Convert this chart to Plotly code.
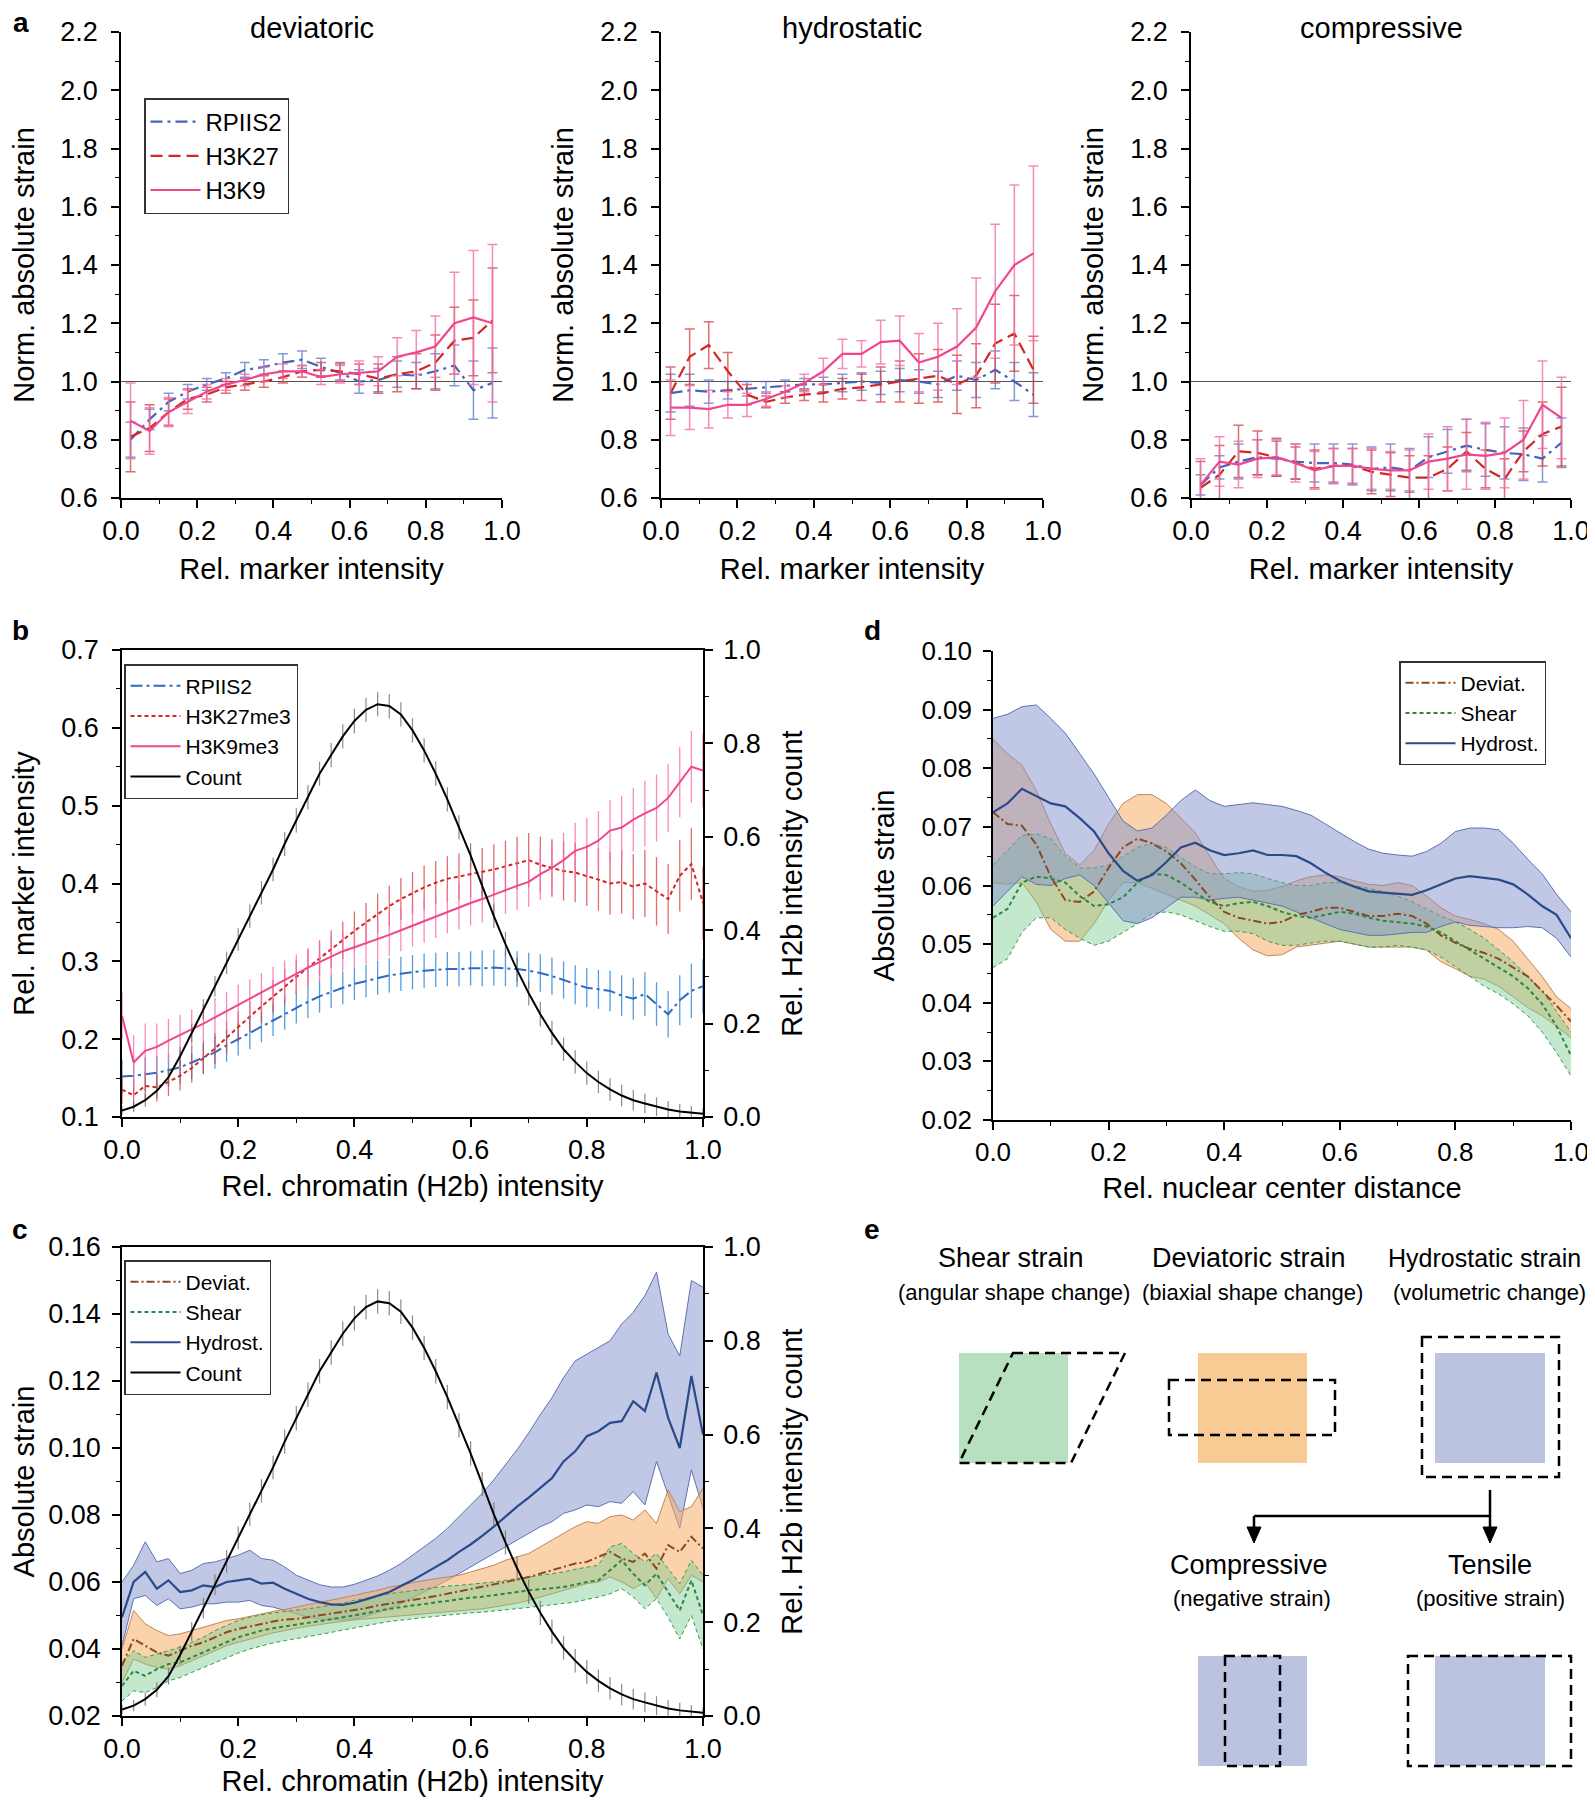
import plotly.graph_objects as go

# page is rendered with an 8px body margin; figure sized so it ends at the window edge
OFF = 8
W, H = 1595 - OFF, 1800 - OFF
FONT = "Liberation Sans, Arial, sans-serif"
NARROW = "Liberation Sans Narrow, Arial Narrow, Liberation Sans, sans-serif"

# ---------------- panel a data ----------------
a_x = [0.025, 0.075, 0.125, 0.175, 0.225, 0.275, 0.325, 0.375, 0.425, 0.475,
       0.525, 0.575, 0.625, 0.675, 0.725, 0.775, 0.825, 0.875, 0.925, 0.975]
a_series = ["RPIIS2", "H3K27", "H3K9"]
a_titles = ["deviatoric", "hydrostatic", "compressive"]

dev_rpiis2 = [0.80, 0.87, 0.93, 0.965, 0.99, 1.01, 1.04, 1.05, 1.065, 1.075, 1.05, 1.03, 1.0, 1.005, 1.025, 1.02, 1.035, 1.055, 0.97, 0.995]
dev_h3k27 = [0.81, 0.84, 0.895, 0.94, 0.955, 0.98, 0.99, 1.0, 1.015, 1.035, 1.04, 1.035, 1.025, 1.01, 1.025, 1.035, 1.065, 1.14, 1.15, 1.21]
dev_h3k9 = [0.865, 0.83, 0.895, 0.93, 0.965, 0.99, 1.005, 1.025, 1.035, 1.035, 1.015, 1.025, 1.03, 1.035, 1.085, 1.10, 1.12, 1.20, 1.22, 1.20]
dev_rpiis2_err = [0.06, 0.035, 0.03, 0.025, 0.02, 0.02, 0.025, 0.025, 0.03, 0.03, 0.03, 0.03, 0.04, 0.04, 0.045, 0.045, 0.06, 0.07, 0.1, 0.12]
dev_h3k27_err = [0.12, 0.08, 0.045, 0.035, 0.025, 0.02, 0.02, 0.02, 0.02, 0.02, 0.025, 0.03, 0.035, 0.05, 0.06, 0.06, 0.095, 0.115, 0.13, 0.18]
dev_h3k9_err = [0.13, 0.08, 0.05, 0.04, 0.025, 0.02, 0.02, 0.025, 0.025, 0.02, 0.025, 0.03, 0.04, 0.05, 0.065, 0.075, 0.105, 0.175, 0.23, 0.27]

hyd_rpiis2 = [0.96, 0.97, 0.965, 0.97, 0.975, 0.98, 0.985, 0.99, 0.99, 0.995, 1.0, 0.995, 1.005, 1.0, 0.99, 1.02, 1.005, 1.04, 1.0, 0.955]
hyd_h3k27 = [0.96, 1.085, 1.125, 1.035, 0.955, 0.93, 0.945, 0.955, 0.96, 0.975, 0.98, 0.99, 1.0, 1.01, 1.02, 0.99, 1.02, 1.13, 1.165, 1.04]
hyd_h3k9 = [0.91, 0.91, 0.905, 0.92, 0.92, 0.94, 0.965, 0.995, 1.035, 1.095, 1.095, 1.135, 1.14, 1.065, 1.085, 1.12, 1.185, 1.31, 1.40, 1.44]
hyd_rpiis2_err = [0.065, 0.055, 0.04, 0.03, 0.025, 0.02, 0.02, 0.02, 0.025, 0.03, 0.03, 0.04, 0.04, 0.04, 0.045, 0.05, 0.06, 0.065, 0.065, 0.075]
hyd_h3k27_err = [0.09, 0.095, 0.08, 0.065, 0.035, 0.02, 0.02, 0.02, 0.03, 0.035, 0.045, 0.06, 0.07, 0.085, 0.09, 0.1, 0.11, 0.135, 0.13, 0.115]
hyd_h3k9_err = [0.095, 0.075, 0.065, 0.045, 0.04, 0.025, 0.02, 0.03, 0.045, 0.05, 0.045, 0.075, 0.085, 0.1, 0.115, 0.13, 0.17, 0.23, 0.275, 0.30]

com_rpiis2 = [0.645, 0.705, 0.725, 0.74, 0.735, 0.725, 0.72, 0.72, 0.715, 0.70, 0.705, 0.695, 0.74, 0.76, 0.78, 0.765, 0.755, 0.75, 0.735, 0.79]
com_h3k27 = [0.635, 0.68, 0.76, 0.755, 0.74, 0.72, 0.70, 0.71, 0.71, 0.69, 0.68, 0.67, 0.67, 0.70, 0.76, 0.70, 0.665, 0.76, 0.82, 0.845]
com_h3k9 = [0.645, 0.725, 0.715, 0.735, 0.74, 0.72, 0.695, 0.71, 0.71, 0.70, 0.695, 0.695, 0.725, 0.735, 0.75, 0.745, 0.755, 0.80, 0.92, 0.875]
com_rpiis2_err = [0.035, 0.04, 0.06, 0.06, 0.06, 0.06, 0.065, 0.065, 0.07, 0.075, 0.08, 0.075, 0.07, 0.075, 0.09, 0.09, 0.09, 0.09, 0.08, 0.085]
com_h3k27_err = [0.09, 0.1, 0.09, 0.075, 0.065, 0.055, 0.065, 0.06, 0.06, 0.075, 0.075, 0.075, 0.075, 0.075, 0.065, 0.065, 0.07, 0.07, 0.11, 0.135]
com_h3k9_err = [0.09, 0.085, 0.08, 0.065, 0.06, 0.065, 0.065, 0.06, 0.06, 0.07, 0.065, 0.07, 0.095, 0.11, 0.12, 0.115, 0.12, 0.135, 0.15, 0.14]

# ---------------- panels b / c data ----------------
bx = [0.00, 0.02, 0.04, 0.06, 0.08, 0.10, 0.12, 0.14, 0.16, 0.18,
      0.20, 0.22, 0.24, 0.26, 0.28, 0.30, 0.32, 0.34, 0.36, 0.38,
      0.40, 0.42, 0.44, 0.46, 0.48, 0.50, 0.52, 0.54, 0.56, 0.58,
      0.60, 0.62, 0.64, 0.66, 0.68, 0.70, 0.72, 0.74, 0.76, 0.78,
      0.80, 0.82, 0.84, 0.86, 0.88, 0.90, 0.92, 0.94, 0.96, 0.98,
      1.00]
count = [0.014, 0.022, 0.036, 0.056, 0.085, 0.13, 0.18, 0.23, 0.28, 0.33,
         0.38, 0.43, 0.48, 0.53, 0.585, 0.635, 0.685, 0.735, 0.775, 0.815,
         0.848, 0.872, 0.884, 0.88, 0.862, 0.828, 0.785, 0.735, 0.68, 0.62,
         0.56, 0.495, 0.43, 0.37, 0.315, 0.265, 0.22, 0.18, 0.145, 0.118,
         0.094, 0.075, 0.059, 0.046, 0.036, 0.029, 0.022, 0.016, 0.012, 0.009,
         0.007]
count_err = [0.01, 0.012, 0.014, 0.016, 0.018, 0.02, 0.02, 0.022, 0.022, 0.024,
             0.024, 0.025, 0.025, 0.025, 0.026, 0.026, 0.026, 0.026, 0.026, 0.026,
             0.026, 0.026, 0.026, 0.026, 0.026, 0.026, 0.026, 0.026, 0.026, 0.026,
             0.026, 0.026, 0.026, 0.026, 0.026, 0.026, 0.026, 0.026, 0.025, 0.025,
             0.025, 0.024, 0.024, 0.023, 0.022, 0.021, 0.02, 0.018, 0.016, 0.014,
             0.012]
b_rpiis2 = [0.152, 0.153, 0.155, 0.157, 0.16, 0.164, 0.17, 0.176, 0.183, 0.192,
            0.20, 0.208, 0.217, 0.225, 0.233, 0.241, 0.248, 0.255, 0.261, 0.266,
            0.271, 0.275, 0.279, 0.282, 0.284, 0.286, 0.288, 0.289, 0.29, 0.29,
            0.291, 0.291, 0.292, 0.291, 0.29, 0.288, 0.285, 0.281, 0.276, 0.27,
            0.266, 0.264, 0.262, 0.256, 0.252, 0.258, 0.245, 0.232, 0.25, 0.262,
            0.268]
b_rpiis2_err = [0.022, 0.022, 0.022, 0.021, 0.021, 0.021, 0.021, 0.021, 0.021, 0.021,
                0.021, 0.021, 0.021, 0.021, 0.021, 0.021, 0.021, 0.021, 0.021, 0.021,
                0.021, 0.021, 0.022, 0.022, 0.022, 0.022, 0.022, 0.022, 0.022, 0.022,
                0.022, 0.023, 0.023, 0.023, 0.023, 0.023, 0.024, 0.024, 0.024, 0.025,
                0.025, 0.025, 0.026, 0.026, 0.027, 0.028, 0.028, 0.03, 0.032, 0.035,
                0.035]
b_h3k27 = [0.135, 0.128, 0.14, 0.138, 0.145, 0.153, 0.163, 0.175, 0.188, 0.202,
           0.216, 0.229, 0.242, 0.255, 0.268, 0.28, 0.292, 0.304, 0.316, 0.327,
           0.339, 0.35, 0.361, 0.371, 0.38, 0.388, 0.395, 0.401, 0.406, 0.409,
           0.412, 0.415, 0.418, 0.422, 0.426, 0.43, 0.424, 0.42, 0.416, 0.414,
           0.41, 0.405, 0.40, 0.402, 0.396, 0.40, 0.39, 0.38, 0.41, 0.425,
           0.375]
b_h3k27_err = [0.018, 0.018, 0.018, 0.018, 0.018, 0.019, 0.019, 0.019, 0.02, 0.02,
               0.02, 0.02, 0.021, 0.021, 0.022, 0.022, 0.023, 0.023, 0.024, 0.024,
               0.025, 0.025, 0.026, 0.026, 0.027, 0.027, 0.028, 0.028, 0.029, 0.03,
               0.03, 0.031, 0.032, 0.033, 0.034, 0.035, 0.036, 0.037, 0.038, 0.038,
               0.039, 0.04, 0.04, 0.041, 0.042, 0.043, 0.044, 0.045, 0.046, 0.046,
               0.047]
b_h3k9 = [0.23, 0.17, 0.185, 0.19, 0.198, 0.205, 0.213, 0.22, 0.228, 0.236,
          0.245, 0.252, 0.26, 0.268, 0.276, 0.284, 0.292, 0.299, 0.306, 0.313,
          0.318, 0.323, 0.328, 0.334, 0.34, 0.346, 0.352, 0.358, 0.364, 0.37,
          0.375, 0.38, 0.386, 0.392, 0.397, 0.402, 0.412, 0.42, 0.43, 0.442,
          0.447, 0.455, 0.468, 0.472, 0.482, 0.49, 0.497, 0.51, 0.53, 0.55,
          0.545]
b_h3k9_err = [0.03, 0.035, 0.035, 0.03, 0.028, 0.026, 0.025, 0.025, 0.025, 0.025,
              0.025, 0.025, 0.025, 0.025, 0.025, 0.025, 0.025, 0.025, 0.025, 0.025,
              0.026, 0.026, 0.026, 0.027, 0.027, 0.027, 0.028, 0.028, 0.028, 0.029,
              0.029, 0.03, 0.03, 0.031, 0.031, 0.032, 0.033, 0.034, 0.035, 0.036,
              0.037, 0.038, 0.039, 0.04, 0.041, 0.042, 0.043, 0.044, 0.045, 0.046,
              0.047]

c_hyd = [0.0495, 0.06, 0.063, 0.058, 0.0605, 0.057, 0.0575, 0.059, 0.0585, 0.06,
         0.0605, 0.061, 0.0595, 0.0598, 0.058, 0.0565, 0.055, 0.054, 0.0533, 0.0532,
         0.0538, 0.0548, 0.0558, 0.057, 0.0588, 0.0605, 0.0625, 0.0645, 0.0665, 0.069,
         0.0712, 0.0738, 0.0765, 0.0795, 0.0825, 0.0852, 0.088, 0.091, 0.096, 0.099,
         0.1035, 0.105, 0.1075, 0.108, 0.114, 0.111, 0.1225, 0.109, 0.10, 0.1215,
         0.104]
c_hyd_hi = [0.06, 0.065, 0.072, 0.066, 0.067, 0.0625, 0.0635, 0.0655, 0.066, 0.067,
            0.068, 0.0695, 0.067, 0.0665, 0.0645, 0.062, 0.0605, 0.0592, 0.0585, 0.0585,
            0.0593, 0.0605, 0.0618, 0.0635, 0.0655, 0.068, 0.0705, 0.073, 0.076, 0.0795,
            0.083, 0.0865, 0.0905, 0.095, 0.0995, 0.1045, 0.11, 0.115, 0.121, 0.126,
            0.128, 0.13, 0.132, 0.137, 0.1405, 0.1455, 0.1525, 0.134, 0.1275, 0.15,
            0.148]
c_hyd_lo = [0.041, 0.055, 0.056, 0.053, 0.055, 0.052, 0.0525, 0.0535, 0.0535, 0.054,
            0.054, 0.0545, 0.053, 0.0525, 0.0515, 0.0505, 0.0495, 0.049, 0.0487, 0.0487,
            0.049, 0.0498, 0.0508, 0.052, 0.0535, 0.0552, 0.057, 0.0588, 0.0605, 0.0625,
            0.0645, 0.0665, 0.0685, 0.0705, 0.0725, 0.0745, 0.0765, 0.078, 0.0805, 0.0815,
            0.083, 0.0825, 0.084, 0.0835, 0.087, 0.083, 0.096, 0.086, 0.076, 0.0935,
            0.082]
c_dev = [0.035, 0.043, 0.041, 0.039, 0.038, 0.0395, 0.041, 0.042, 0.0435, 0.045,
         0.046, 0.0468, 0.0475, 0.0482, 0.0488, 0.049, 0.0495, 0.05, 0.0505, 0.051,
         0.0515, 0.0522, 0.053, 0.0535, 0.054, 0.0545, 0.0552, 0.0558, 0.0565, 0.057,
         0.0578, 0.0585, 0.0592, 0.06, 0.0607, 0.0615, 0.0625, 0.0635, 0.0645, 0.0655,
         0.066, 0.0675, 0.069, 0.067, 0.066, 0.0685, 0.064, 0.071, 0.069, 0.0735,
         0.07]
c_dev_hi = [0.04, 0.0515, 0.0475, 0.0455, 0.044, 0.0445, 0.0455, 0.0465, 0.0475, 0.0485,
            0.049, 0.0498, 0.0505, 0.0512, 0.0518, 0.0525, 0.053, 0.0538, 0.0545, 0.0552,
            0.056, 0.0568, 0.0575, 0.0585, 0.059, 0.0598, 0.0605, 0.061, 0.0615, 0.062,
            0.063, 0.064, 0.065, 0.0665, 0.0675, 0.0685, 0.0705, 0.0725, 0.0745, 0.0765,
            0.078, 0.0775, 0.0795, 0.08, 0.0785, 0.0815, 0.0775, 0.0875, 0.081, 0.0825,
            0.088]
c_dev_lo = [0.03, 0.037, 0.0355, 0.0345, 0.034, 0.035, 0.0365, 0.038, 0.0395, 0.041,
            0.042, 0.043, 0.044, 0.0448, 0.0455, 0.0462, 0.0468, 0.0473, 0.0478, 0.0482,
            0.0487, 0.049, 0.0493, 0.0496, 0.0498, 0.05, 0.0503, 0.0506, 0.051, 0.0513,
            0.0516, 0.052, 0.0525, 0.053, 0.0537, 0.0545, 0.0555, 0.0565, 0.0575, 0.0585,
            0.0595, 0.06, 0.0615, 0.06, 0.058, 0.06, 0.055, 0.061, 0.0565, 0.062,
            0.06]
c_shr = [0.029, 0.0335, 0.032, 0.034, 0.0355, 0.036, 0.0375, 0.039, 0.0405, 0.042,
         0.0435, 0.0445, 0.0455, 0.0462, 0.0468, 0.0472, 0.0478, 0.0483, 0.049, 0.0495,
         0.05, 0.0507, 0.0513, 0.052, 0.0525, 0.053, 0.0535, 0.054, 0.0545, 0.055,
         0.0553, 0.0556, 0.056, 0.0565, 0.057, 0.0575, 0.0578, 0.058, 0.0585, 0.0592,
         0.06, 0.0605, 0.0635, 0.0665, 0.0625, 0.059, 0.0625, 0.057, 0.0515, 0.0605,
         0.05]
c_shr_hi = [0.036, 0.0395, 0.0375, 0.0385, 0.0395, 0.0405, 0.042, 0.0435, 0.0455, 0.047,
            0.0485, 0.0495, 0.0502, 0.0508, 0.0512, 0.0515, 0.052, 0.0525, 0.053, 0.0537,
            0.0545, 0.055, 0.0557, 0.0565, 0.057, 0.0575, 0.058, 0.0585, 0.0588, 0.059,
            0.0593, 0.0597, 0.06, 0.0605, 0.061, 0.0615, 0.062, 0.0625, 0.063, 0.0638,
            0.0645, 0.065, 0.0705, 0.0715, 0.0685, 0.066, 0.0685, 0.064, 0.0595, 0.0665,
            0.062]
c_shr_lo = [0.0245, 0.0275, 0.027, 0.0285, 0.0305, 0.0315, 0.033, 0.0345, 0.036, 0.0375,
            0.0388, 0.04, 0.041, 0.0418, 0.0425, 0.043, 0.0437, 0.0443, 0.045, 0.0457,
            0.0463, 0.047, 0.0476, 0.0482, 0.0487, 0.049, 0.0494, 0.0498, 0.0502, 0.0505,
            0.0508, 0.051, 0.0513, 0.0516, 0.052, 0.0524, 0.0528, 0.0532, 0.0536, 0.054,
            0.0548, 0.0555, 0.0565, 0.058, 0.0555, 0.052, 0.055, 0.0495, 0.043, 0.05,
            0.04]

# ---------------- panel d data ----------------
dx = [0.000, 0.025, 0.050, 0.075, 0.100, 0.125, 0.150, 0.175, 0.200, 0.225,
      0.250, 0.275, 0.300, 0.325, 0.350, 0.375, 0.400, 0.425, 0.450, 0.475,
      0.500, 0.525, 0.550, 0.575, 0.600, 0.625, 0.650, 0.675, 0.700, 0.725,
      0.750, 0.775, 0.800, 0.825, 0.850, 0.875, 0.900, 0.925, 0.950, 0.975,
      1.000]
d_hyd = [0.0725, 0.074, 0.0765, 0.0752, 0.074, 0.0735, 0.0715, 0.0692, 0.0655, 0.0625,
         0.0608, 0.0618, 0.064, 0.0665, 0.0673, 0.066, 0.0652, 0.0655, 0.066, 0.0652,
         0.0652, 0.065, 0.0638, 0.0622, 0.0608, 0.0598, 0.059, 0.0588, 0.0586, 0.0584,
         0.0592, 0.0602, 0.0612, 0.0616, 0.0613, 0.061, 0.0602, 0.0585, 0.0565, 0.055,
         0.051]
d_hyd_hi = [0.0885, 0.0892, 0.0905, 0.0908, 0.0885, 0.086, 0.0825, 0.079, 0.075, 0.071,
            0.0693, 0.0698, 0.072, 0.0745, 0.0763, 0.0745, 0.0735, 0.0738, 0.0741, 0.0738,
            0.0735, 0.0728, 0.072, 0.0705, 0.069, 0.0675, 0.0662, 0.0655, 0.0652, 0.065,
            0.0658, 0.0672, 0.0692, 0.0698, 0.0698, 0.0695, 0.0672, 0.0645, 0.062, 0.0585,
            0.0555]
d_hyd_lo = [0.0565, 0.059, 0.0615, 0.0602, 0.06, 0.0612, 0.0618, 0.06, 0.057, 0.054,
            0.0535, 0.0545, 0.0562, 0.058, 0.058, 0.0575, 0.0578, 0.058, 0.0575, 0.057,
            0.0565, 0.0555, 0.0545, 0.0535, 0.0525, 0.052, 0.0515, 0.0515, 0.0518, 0.052,
            0.052, 0.053, 0.0538, 0.0532, 0.053, 0.0528, 0.0528, 0.053, 0.0528, 0.051,
            0.0478]
d_dev = [0.0725, 0.0705, 0.0702, 0.067, 0.0615, 0.0575, 0.0572, 0.059, 0.063, 0.0665,
         0.068, 0.0672, 0.0658, 0.0638, 0.061, 0.058, 0.0555, 0.0545, 0.054, 0.0535,
         0.0538, 0.055, 0.0555, 0.0562, 0.0562, 0.0555, 0.0548, 0.0548, 0.0552, 0.0548,
         0.0535, 0.0515, 0.0502, 0.0492, 0.0485, 0.0475, 0.046, 0.0445, 0.042, 0.0395,
         0.0368]
d_dev_hi = [0.085, 0.0825, 0.0805, 0.0762, 0.0705, 0.0655, 0.0635, 0.066, 0.0705, 0.074,
            0.0755, 0.0755, 0.074, 0.0715, 0.069, 0.065, 0.0612, 0.0598, 0.059, 0.0592,
            0.0598, 0.0608, 0.0615, 0.0618, 0.0615, 0.0608, 0.0602, 0.06, 0.0605, 0.06,
            0.0582, 0.0562, 0.0548, 0.0542, 0.0535, 0.0525, 0.0505, 0.0475, 0.0445, 0.041,
            0.039]
d_dev_lo = [0.0605, 0.0602, 0.0605, 0.0572, 0.0525, 0.0505, 0.0505, 0.0535, 0.0575, 0.0605,
            0.0605, 0.0595, 0.0585, 0.0575, 0.0565, 0.055, 0.0535, 0.051, 0.049, 0.048,
            0.0482, 0.0495, 0.0498, 0.0502, 0.0505, 0.05, 0.0495, 0.0495, 0.0495, 0.0495,
            0.049, 0.047, 0.0458, 0.0445, 0.044, 0.0428, 0.041, 0.0392, 0.0378, 0.036,
            0.034]
d_shr = [0.0545, 0.056, 0.0605, 0.0615, 0.0612, 0.0605, 0.0582, 0.0565, 0.0568, 0.058,
         0.0605, 0.062, 0.0618, 0.0605, 0.0588, 0.0572, 0.0565, 0.057, 0.0572, 0.0565,
         0.0555, 0.0548, 0.0545, 0.055, 0.0555, 0.0552, 0.0545, 0.054, 0.0538, 0.0535,
         0.053, 0.052, 0.0505, 0.049, 0.0475, 0.046, 0.0445, 0.0425, 0.0398, 0.036,
         0.031]
d_shr_hi = [0.0635, 0.066, 0.0685, 0.0688, 0.068, 0.065, 0.063, 0.063, 0.0635, 0.065,
            0.0665, 0.0672, 0.0665, 0.0648, 0.0632, 0.062, 0.062, 0.0622, 0.062, 0.0612,
            0.0605, 0.06, 0.06, 0.0605, 0.0605, 0.06, 0.0595, 0.059, 0.0582, 0.0572,
            0.056, 0.0548, 0.0538, 0.0525, 0.051, 0.049, 0.047, 0.0445, 0.042, 0.0385,
            0.035]
d_shr_lo = [0.046, 0.0475, 0.052, 0.0545, 0.0545, 0.0525, 0.051, 0.0498, 0.0505, 0.052,
            0.0535, 0.0552, 0.0555, 0.055, 0.054, 0.053, 0.0522, 0.0522, 0.0518, 0.0505,
            0.0498, 0.0498, 0.0502, 0.0505, 0.0505, 0.05, 0.0495, 0.0495, 0.0498, 0.0495,
            0.049, 0.0478, 0.0462, 0.0445, 0.0428, 0.0415, 0.0398, 0.0378, 0.035, 0.0315,
            0.0275]

# ---------------- styles ----------------
C_BLUE, C_BLUE_E = "#4264bd", "rgba(90,120,205,0.75)"
C_RED, C_RED_E = "#d42626", "rgba(215,60,60,0.75)"
C_PINK, C_PINK_E = "#f0468e", "rgba(245,110,165,0.8)"
C_B_BLUE, C_B_BLUE_E = "#2f6cc0", "rgba(55,140,215,0.85)"
C_DEV, C_SHR, C_HYD = "#8a4a1e", "#2e8540", "#2b4a8a"
F_DEV, F_SHR, F_HYD = "rgba(246,175,105,0.55)", "rgba(125,205,145,0.45)", "rgba(130,145,205,0.5)"
E_DEV, E_SHR, E_HYD = "#c0845a", "#3a9a50", "#5d72b5"

fig = go.Figure()


def px(x):
    """page x (px) -> paper fraction"""
    return (x - OFF) / W


def py(y):
    """page y (px) -> paper fraction"""
    return 1 - (y - OFF) / H


# ---------------- panel a ----------------
a_data = [
    (dev_rpiis2, dev_rpiis2_err, dev_h3k27, dev_h3k27_err, dev_h3k9, dev_h3k9_err),
    (hyd_rpiis2, hyd_rpiis2_err, hyd_h3k27, hyd_h3k27_err, hyd_h3k9, hyd_h3k9_err),
    (com_rpiis2, com_rpiis2_err, com_h3k27, com_h3k27_err, com_h3k9, com_h3k9_err),
]
a_styles = [(C_BLUE, C_BLUE_E, "12px,5px,3px,5px"), (C_RED, C_RED_E, "12px,6px"), (C_PINK, C_PINK_E, "solid")]
for k, data in enumerate(a_data):
    xa = "x" if k == 0 else f"x{k+1}"
    ya = "y" if k == 0 else f"y{k+1}"
    for s in range(3):
        col, ecol, dash = a_styles[s]
        fig.add_trace(go.Scatter(
            x=a_x, y=data[2 * s], mode="lines", name=a_series[s],
            line=dict(color=col, width=2.2, dash=dash),
            error_y=dict(type="data", array=data[2 * s + 1], color=ecol, thickness=1.5, width=5),
            xaxis=xa, yaxis=ya, showlegend=(k == 0), legend="legend"))

# ---------------- panel b ----------------
b_specs = [("RPIIS2", b_rpiis2, b_rpiis2_err, C_B_BLUE, C_B_BLUE_E, "12px,4px,3px,4px"),
           ("H3K27me3", b_h3k27, b_h3k27_err, C_RED, C_RED_E, "4px,3px"),
           ("H3K9me3", b_h3k9, b_h3k9_err, C_PINK, C_PINK_E, "solid")]
for name, yv, ev, col, ecol, dash in b_specs:
    fig.add_trace(go.Scatter(
        x=bx, y=yv, mode="lines", name=name,
        line=dict(color=col, width=2, dash=dash),
        error_y=dict(type="data", array=ev, color=ecol, thickness=1.3, width=0),
        xaxis="x4", yaxis="y4", legend="legend2"))
fig.add_trace(go.Scatter(
    x=bx, y=count, mode="lines", name="Count",
    line=dict(color="black", width=2),
    error_y=dict(type="data", array=count_err, color="rgba(110,110,110,0.8)", thickness=1.2, width=0),
    xaxis="x4", yaxis="y5", legend="legend2"))


# ---------------- bands helper ----------------
def add_band(x, lo, hi, fillc, edgec, edash, xa, ya):
    fig.add_trace(go.Scatter(x=x, y=lo, mode="lines", line=dict(color=edgec, width=1, dash=edash),
                             showlegend=False, xaxis=xa, yaxis=ya, hoverinfo="skip"))
    fig.add_trace(go.Scatter(x=x, y=hi, mode="lines", line=dict(color=edgec, width=1, dash=edash),
                             fill="tonexty", fillcolor=fillc, showlegend=False,
                             xaxis=xa, yaxis=ya, hoverinfo="skip"))


# ---------------- panel c ----------------
add_band(bx, c_hyd_lo, c_hyd_hi, F_HYD, E_HYD, "solid", "x5", "y6")
add_band(bx, c_dev_lo, c_dev_hi, F_DEV, E_DEV, "solid", "x5", "y6")
add_band(bx, c_shr_lo, c_shr_hi, F_SHR, E_SHR, "4px,3px", "x5", "y6")
fig.add_trace(go.Scatter(x=bx, y=c_dev, mode="lines", name="Deviat.",
                         line=dict(color=C_DEV, width=2, dash="8px,3px,2px,3px"),
                         xaxis="x5", yaxis="y6", legend="legend3"))
fig.add_trace(go.Scatter(x=bx, y=c_shr, mode="lines", name="Shear",
                         line=dict(color=C_SHR, width=2, dash="4px,3px"),
                         xaxis="x5", yaxis="y6", legend="legend3"))
fig.add_trace(go.Scatter(x=bx, y=c_hyd, mode="lines", name="Hydrost.",
                         line=dict(color=C_HYD, width=2.2),
                         xaxis="x5", yaxis="y6", legend="legend3"))
fig.add_trace(go.Scatter(
    x=bx, y=count, mode="lines", name="Count",
    line=dict(color="black", width=2),
    error_y=dict(type="data", array=count_err, color="rgba(110,110,110,0.8)", thickness=1.2, width=0),
    xaxis="x5", yaxis="y7", legend="legend3"))

# ---------------- panel d ----------------
add_band(dx, d_dev_lo, d_dev_hi, F_DEV, E_DEV, "solid", "x6", "y8")
add_band(dx, d_shr_lo, d_shr_hi, F_SHR, E_SHR, "4px,3px", "x6", "y8")
add_band(dx, d_hyd_lo, d_hyd_hi, F_HYD, E_HYD, "solid", "x6", "y8")
fig.add_trace(go.Scatter(x=dx, y=d_dev, mode="lines", name="Deviat.",
                         line=dict(color=C_DEV, width=2, dash="8px,3px,2px,3px"),
                         xaxis="x6", yaxis="y8", legend="legend4"))
fig.add_trace(go.Scatter(x=dx, y=d_shr, mode="lines", name="Shear",
                         line=dict(color=C_SHR, width=2, dash="4px,3px"),
                         xaxis="x6", yaxis="y8", legend="legend4"))
fig.add_trace(go.Scatter(x=dx, y=d_hyd, mode="lines", name="Hydrost.",
                         line=dict(color=C_HYD, width=2.2),
                         xaxis="x6", yaxis="y8", legend="legend4"))


# ---------------- axes ----------------
def ax(domain, rng, dtick, minor, fmt, title, font, tsize, ttsize, anchor, side=None, mirror=False,
       overlaying=None, standoff=10, tlso=0):
    d = dict(domain=domain, range=rng, dtick=dtick, tick0=0, tickformat=fmt, automargin=False,
             showline=True, linecolor="black", linewidth=1.5, mirror=mirror,
             ticks="outside", ticklen=8, tickwidth=1.5, tickcolor="black", ticklabelstandoff=tlso,
             minor=dict(ticks="outside", ticklen=4, tickwidth=1.2, tickcolor="black", dtick=minor, showgrid=False),
             showgrid=False, zeroline=False, anchor=anchor,
             tickfont=dict(family=font, size=tsize, color="black"),
             title=dict(text=title, font=dict(family=font, size=ttsize, color="black"), standoff=standoff))
    if side:
        d["side"] = side
    if overlaying:
        d["overlaying"] = overlaying
    return d


a_ydom = [py(498), py(32)]
a_xdoms = [[px(121), px(502)], [px(661), px(1043)], [px(1191), px(1571)]]
lay = {}
for k in range(3):
    xn = "xaxis" if k == 0 else f"xaxis{k+1}"
    yn = "yaxis" if k == 0 else f"yaxis{k+1}"
    xa = "x" if k == 0 else f"x{k+1}"
    ya = "y" if k == 0 else f"y{k+1}"
    lay[xn] = ax(a_xdoms[k], [0, 1.0], 0.2, 0.1, ".1f", "Rel. marker intensity", FONT, 27, 29, ya, standoff=14)
    lay[yn] = ax(a_ydom, [0.6, 2.2], 0.2, 0.1, ".1f", "Norm. absolute strain", FONT, 27, 29, xa, standoff=18, tlso=8)

b_xdom = [px(122), px(703)]
lay["xaxis4"] = ax(b_xdom, [0, 1.0], 0.2, 0.1, ".1f", "Rel. chromatin (H2b) intensity", NARROW, 27, 29, "y4", mirror=True, standoff=12)
lay["yaxis4"] = ax([py(1117), py(650)], [0.1, 0.7], 0.1, 0.05, ".1f", "Rel. marker intensity", NARROW, 27, 29, "x4", standoff=18, tlso=8)
lay["yaxis5"] = ax([py(1117), py(650)], [0, 1.0], 0.2, 0.1, ".1f", "Rel. H2b intensity count", NARROW, 27, 29, "x4",
                   side="right", overlaying="y4", standoff=22, tlso=5)
lay["xaxis5"] = ax(b_xdom, [0, 1.0], 0.2, 0.1, ".1f", "Rel. chromatin (H2b) intensity", NARROW, 27, 29, "y6", mirror=True, standoff=8)
lay["yaxis6"] = ax([py(1716), py(1247)], [0.02, 0.16], 0.02, 0.01, ".2f", "Absolute strain", NARROW, 27, 29, "x5", standoff=16, tlso=6)
lay["yaxis7"] = ax([py(1716), py(1247)], [0, 1.0], 0.2, 0.1, ".1f", "Rel. H2b intensity count", NARROW, 27, 29, "x5",
                   side="right", overlaying="y6", standoff=22, tlso=5)
lay["xaxis6"] = ax([px(993), px(1571)], [0, 1.0], 0.2, 0.1, ".1f", "Rel. nuclear center distance", NARROW, 26, 29, "y8", standoff=12)
lay["yaxis8"] = ax([py(1120), py(651)], [0.02, 0.10], 0.01, 0.005, ".2f", "Absolute strain", NARROW, 26, 29, "x6", standoff=18, tlso=6)

leg_common = dict(xanchor="left", yanchor="top", bgcolor="white", bordercolor="#333333", borderwidth=1.5,
                  tracegroupgap=0, itemwidth=50, traceorder="normal")
lay["legend"] = dict(x=px(144), y=py(98), font=dict(family=FONT, size=24, color="black"), **leg_common)
lay["legend2"] = dict(x=px(124), y=py(664), font=dict(family=NARROW, size=21, color="black"), **leg_common)
lay["legend3"] = dict(x=px(124), y=py(1260), font=dict(family=NARROW, size=21, color="black"), **leg_common)
lay["legend4"] = dict(x=px(1399), y=py(661), font=dict(family=NARROW, size=21, color="black"), **leg_common)

fig.update_layout(width=W, height=H, margin=dict(l=0, r=0, t=0, b=0, autoexpand=False),
                  paper_bgcolor="white", plot_bgcolor="rgba(0,0,0,0)",
                  font=dict(family=FONT, color="black"), **lay)

# reference line at 1.0 in panel a
for k in range(3):
    xa = "x" if k == 0 else f"x{k+1}"
    ya = "y" if k == 0 else f"y{k+1}"
    fig.add_shape(type="line", xref=f"{xa} domain", yref=ya, x0=0, x1=1, y0=1.0, y1=1.0,
                  line=dict(color="#555555", width=1), layer="below")

# titles of panel a
for k in range(3):
    cx = (a_xdoms[k][0] + a_xdoms[k][1]) / 2
    fig.add_annotation(x=cx, y=py(28), xref="paper", yref="paper", text=a_titles[k], showarrow=False,
                       font=dict(family=FONT, size=29, color="black"), xanchor="center", yanchor="middle")

# panel letters
for lab, (lx, ly) in {"a": (21, 22), "b": (20, 630), "c": (20, 1229), "d": (872, 630), "e": (872, 1229)}.items():
    fig.add_annotation(x=px(lx), y=py(ly), xref="paper", yref="paper", text=f"<b>{lab}</b>", showarrow=False,
                       font=dict(family=FONT, size=28, color="black"), xanchor="center", yanchor="middle")

# ---------------- panel e (schematic) ----------------
G_FILL, O_FILL, L_FILL = "#b6e0c0", "#f9cb94", "#bcc3e0"
DASH = dict(color="black", width=2.5, dash="10px,6px")


def rect(x0, y0, x1, y1, fill=None, line=None):
    fig.add_shape(type="rect", xref="paper", yref="paper", x0=px(x0), x1=px(x1), y0=py(y0), y1=py(y1),
                  fillcolor=fill if fill else "rgba(0,0,0,0)",
                  line=line if line else dict(width=0))


def text(x, y, s, size, fam):
    fig.add_annotation(x=px(x), y=py(y), xref="paper", yref="paper", text=s, showarrow=False,
                       font=dict(family=fam, size=size, color="black"), xanchor="center", yanchor="middle")


text(1011, 1258, "Shear strain", 27, FONT)
text(1014, 1292, "(angular shape change)", 22, NARROW)
text(1249, 1258, "Deviatoric strain", 27, FONT)
text(1252, 1292, "(biaxial shape change)", 22, NARROW)
text(1484, 1258, "Hydrostatic strain", 25, FONT)
text(1489, 1292, "(volumetric change)", 22, NARROW)
text(1249, 1565, "Compressive", 27, FONT)
text(1252, 1598, "(negative strain)", 22, NARROW)
text(1490, 1565, "Tensile", 27, FONT)
text(1490, 1598, "(positive strain)", 22, NARROW)

# shear
rect(959, 1353, 1068, 1463, fill=G_FILL)
fig.add_shape(type="path", xref="paper", yref="paper",
              path=f"M {px(1013)} {py(1353)} L {px(1125)} {py(1353)} L {px(1071)} {py(1463)} L {px(959)} {py(1463)} Z",
              line=DASH, fillcolor="rgba(0,0,0,0)")
# deviatoric
rect(1198, 1353, 1307, 1463, fill=O_FILL)
rect(1169, 1380, 1335, 1435, line=DASH)
# hydrostatic
rect(1435, 1353, 1545, 1463, fill=L_FILL)
rect(1422, 1337, 1559, 1477, line=DASH)
# arrows
for (x0, y0, x1, y1) in [(1490, 1490, 1490, 1530), (1254, 1516, 1490, 1516), (1254, 1516, 1254, 1530)]:
    fig.add_shape(type="line", xref="paper", yref="paper", x0=px(x0), y0=py(y0), x1=px(x1), y1=py(y1),
                  line=dict(color="black", width=2.5))
for ax_ in (1254, 1490):
    fig.add_shape(type="path", xref="paper", yref="paper",
                  path=f"M {px(ax_-7)} {py(1527)} L {px(ax_+7)} {py(1527)} L {px(ax_)} {py(1543)} Z",
                  fillcolor="black", line=dict(color="black", width=1))
# compressive / tensile
rect(1198, 1656, 1307, 1766, fill=L_FILL)
rect(1225, 1656, 1280, 1766, line=DASH)
rect(1435, 1656, 1545, 1766, fill=L_FILL)
rect(1408, 1656, 1571, 1766, line=DASH)

fig.write_html("out.html")
